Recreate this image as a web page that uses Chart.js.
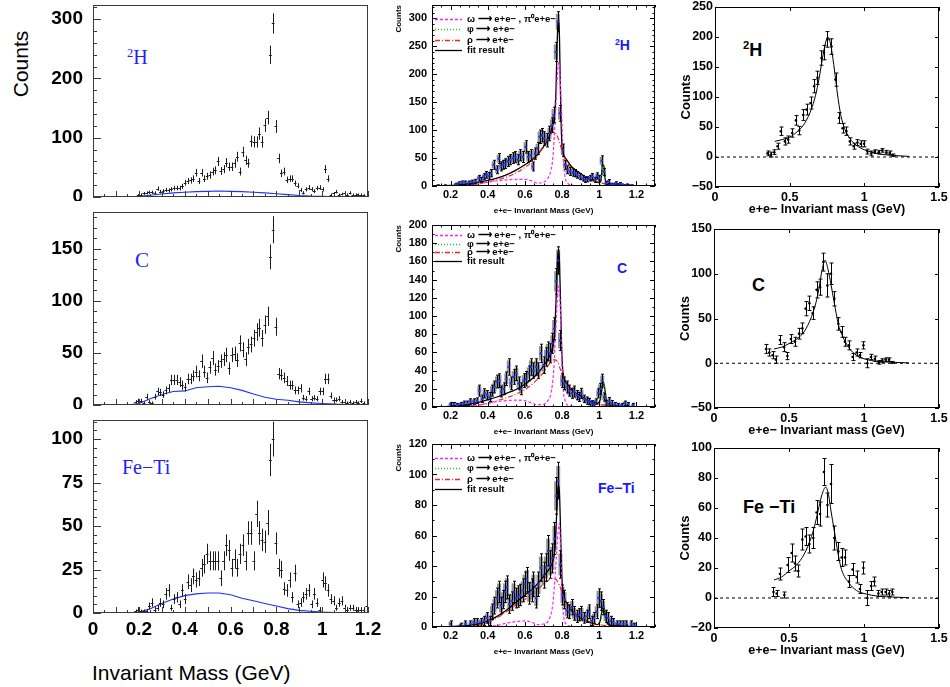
<!DOCTYPE html>
<html>
<head>
<meta charset="utf-8">
<script src="https://cdn.jsdelivr.net/npm/chart.js@4.4.1/dist/chart.umd.min.js"></script>
<style>
  body { margin: 0; width: 950px; height: 687px; position: relative; overflow: hidden; background: #fff;
         font-family: "Liberation Sans", Arial, sans-serif; }
  canvas { position: absolute; }
  .lbl { position: absolute; line-height: 1; white-space: nowrap; }
  .serif { font-family: "Liberation Serif", "Times New Roman", serif; color: #1e1eff; }
  .blue { font-weight: bold; color: #1a1aff; }
  .black { font-weight: bold; color: #000; }
  .sup { font-size: 0.62em; vertical-align: 0.6em; }
</style>
</head>
<body>

<div class="lbl" style="left:20px;top:64px;font-size:21px;transform:translate(-50%,-50%) rotate(-90deg)">Counts</div>
<div class="lbl" style="left:92px;top:662px;font-size:21px">Invariant Mass (GeV)</div>

<div class="lbl serif" style="left:127px;top:47px;font-size:20px"><span class="sup">2</span>H</div>
<div class="lbl serif" style="left:135px;top:250px;font-size:21px">C</div>
<div class="lbl serif" style="left:122px;top:457px;font-size:20px">Fe&minus;Ti</div>

<div class="lbl blue" style="left:615px;top:38px;font-size:14px"><span class="sup">2</span>H</div>
<div class="lbl blue" style="left:617px;top:261px;font-size:14px">C</div>
<div class="lbl blue" style="left:598px;top:481px;font-size:14px">Fe&minus;Ti</div>

<div class="lbl black" style="left:743px;top:40px;font-size:18px"><span class="sup">2</span>H</div>
<div class="lbl black" style="left:752px;top:276px;font-size:18px">C</div>
<div class="lbl black" style="left:743px;top:498px;font-size:18px">Fe &minus;Ti</div>

<script>
// ---- left column: raw e+e- mass spectra, 12 MeV bins from 0.18 GeV ----
const binStart = 0.18;
const binWidth = 0.012;
const countsH = [1,3,4,6,7,8,8,7,14,9, 10,12,11,13,15,15,15,18,24,27,
  28,31,41,27,41,31,35,37,43,45, 60,44,47,58,51,51,57,68,43,76,
  62,57,94,93,93,107,93,121,134,240, 293,119,65,40,43,29,31,31,23,19,
  12,7,13,16,13,10,15,16,13,47, 31,4,6,9,4,5,6,4,7,4, 4,4,4,3,2];
const countsC = [3,4,4,2,8,3,2,8,13,12,10,14,16,24,24,24,
  22,19,17,25,25,28,32,28,42,32,26,36,45,34,37,42,44,48,35,48,49,43,59,53,44,56,58,64,70,74,64,77,85,
  142,168,
  75,30,29,26,23,19,19,14,14,16,7,6,13,6,7,6,13,13,25,25,9,5,5,6,3,3,2,3,2,3,2,4,2,1];
const countsFe = [1,2,1,1,1,4,6,2,3,6,5,11,13,3,8,9,
  5,13,8,18,16,21,19,20,26,28,34,30,30,30,30,20,30,39,36,26,31,26,34,39,30,46,46,30,57,46,42,41,52,
  88,100,
  40,26,25,14,13,19,9,23,5,6,9,11,13,5,11,6,2,19,17,13,8,7,3,6,7,3,2,3,3,2,2,2,2,4];

// combinatorial background (blue)
const bgMass = [0,0.15,0.2,0.25,0.3,0.35,0.4,0.45,0.5,0.55,0.6,0.65,0.7,0.75,0.8,0.85,0.9,0.95,1.0,1.05,1.1,1.15,1.2];
const bgH  = [0,0,1,3,5,7,8,9,9.5,10,9.5,9,8,7,5.5,4,2.5,1.5,1,0.5,0.3,0.1,0];
const bgC  = [0,0,1.5,6,10,13,13.5,16.5,17.5,18,16.5,14,10.5,7.5,5.5,4.5,3,2,1.5,1,0.5,0.2,0];
const bgFe = [0,0,0.5,2.5,5.5,8,10,11,11.5,11.5,10.5,8.5,7,5.5,4,2.5,1.5,1,0.5,0.3,0.2,0.1,0];

const leftMassTicks = [0,0.2,0.4,0.6,0.8,1,1.2];
const leftTicksH = [0,100,200,300];
const leftTicksC = [0,50,100,150];
const leftTicksFe = [0,25,50,75,100];

// ---- middle column: background-subtracted spectra with cocktail fit ----
const midMassH = [0.13,0.17,0.227,0.245,0.263,0.28,0.298,0.316,0.334,0.352,0.366,0.379,0.393,0.405,0.418,0.432,0.45,0.459,0.471,
  0.482,0.495,0.507,0.521,0.536,0.548,0.561,0.575,0.589,0.604,0.618,0.632,0.643,0.655,0.668,0.679,0.691,0.704,0.718,0.732,
  0.745,0.754,0.766,0.777,0.789,0.804,0.816,0.829,0.843,0.857,0.87,0.882,0.896,0.911,0.923,0.936,0.95,0.963,0.977,0.989,
  1.0,1.013,1.025,1.037,1.05,1.062,1.075,1.088,1.1,1.112,1.125,1.137,1.15,1.162,1.175];
const midCountsH = [1,1,3,5,6,6,6,7,8,14,11,17,20,18,23,38,29,49,35,38,40,44,47,50,52,47,55,52,70,52,55,35,58,67,88,91,85,82,94,
  109,127,240,294,130,64,38,29,26,24,23,20,17,14,11,12,14,17,11,18,14,45,25,5,8,3,2,5,2,4,2,1,2,1,1];
const midErrH = [1,1,2,2.5,3,3,3,3.5,4,5,4.5,5,6,6,6.5,8,7,9,8,8,8.5,9,9,9.5,9.5,9,10,10,11,10,10,8,10,11,12,12,12,12,13,
  13,14,17,18,14,11,8,7,7,6.5,6.5,6,5.5,5,4.5,4.5,5,5.5,4.5,5.5,5,9,6.5,3,3.5,2,2,2.5,2,2,1.5,1.5,1.5,1,1];

const midMassC = [0.2,0.218,0.236,0.254,0.271,0.289,0.307,0.325,0.343,0.355,0.37,0.382,0.396,0.411,0.423,0.436,0.45,0.463,0.473,0.486,
  0.5,0.513,0.525,0.539,0.554,0.566,0.579,0.593,0.607,0.62,0.632,0.646,0.661,0.673,0.686,0.7,0.713,0.723,0.736,0.748,
  0.757,0.768,0.779,0.789,0.8,0.811,0.825,0.838,0.852,0.864,0.879,0.891,0.904,0.918,0.932,0.945,0.959,0.971,0.982,0.995,
  1.004,1.016,1.027,1.039,1.054,1.066,1.084,1.102,1.12,1.138,1.155,1.182];
const midCountsC = [3,3,2,3,4,4,6,6,7,18,9,15,13,11,18,22,28,29,17,20,31,44,26,33,37,26,20,29,31,37,
  44,40,44,40,59,46,55,61,59,70,86,138,161,73,29,26,22,18,15,17,13,11,15,9,7,6,4,3,6,15,
  20,29,11,4,7,4,3,2,2,4,3,2];
const midErrC = [2,2,2,2,2.5,2.5,3,3,3,6,4,5,5,5,6,6.5,7,7.5,6,6.5,7.5,9,7,8,8,7,6.5,7.5,8,8,
  9,8.5,9,8.5,10,9,10,10.5,10.5,11,12,14,15,11,7.5,7,6.5,6,5.5,6,5,5,5.5,4,4,3.5,3,2.5,3,5,
  6,7,4.5,3,3.5,3,2,2,2,2.5,2,2];

const midMassFe = [0.2,0.254,0.28,0.307,0.325,0.343,0.361,0.379,0.396,0.411,0.423,0.436,0.45,0.461,0.471,0.482,0.493,0.504,0.516,0.529,
  0.539,0.552,0.564,0.575,0.588,0.598,0.611,0.623,0.636,0.646,0.661,0.673,0.686,0.7,0.713,0.725,0.736,0.748,0.759,0.768,
  0.779,0.791,0.802,0.813,0.825,0.838,0.852,0.864,0.879,0.891,0.904,0.918,0.932,0.945,0.959,0.971,0.986,0.996,1.009,1.021,
  1.034,1.046,1.061,1.075,1.093,1.111,1.129,1.146,1.173,1.188];
const midCountsFe = [2,1,2,2,3,3,3,4,6,4,10,14,19,23,14,18,23,26,15,17,23,19,20,21,24,28,31,22,24,28,
  19,28,39,34,39,50,41,45,58,86,96,41,21,18,11,10,13,9,7,8,9,6,7,10,4,6,10,19,17,13,
  7,6,4,3,2,2,2,2,2,1];
const midErrFe = [2,1.5,2,2,2.5,2.5,2.5,3,3.5,3,5,5.5,6.5,7,5.5,6,7,7.5,6,6,7,6.5,7,7,7.5,8,8,7,7.5,8,
  6.5,8,9,8.5,9,10,9,9.5,10.5,12,12,9,6.5,6,5,4.5,5,4.5,4,4,4.5,3.5,4,4.5,3,3.5,4.5,6,6,5,
  4,3.5,3,2.5,2,2,2,2,2,1.5];

// fit components
const fitMassH = [0.15,0.2,0.25,0.3,0.35,0.4,0.45,0.5,0.55,0.6,0.65,0.7,0.73,0.75,0.76,0.767,0.773,0.778,0.782,0.786,
  0.79,0.795,0.8,0.81,0.825,0.85,0.9,0.95,0.99,1.0,1.01,1.017,1.025,1.032,1.04,1.06,1.1,1.2,1.25];
const fitH = [0,1,2,4,7,10,14,20,28,38,50,70,88,110,128,170,250,292,298,265,190,110,70,55,47,35,22,12,7,6,10,38,36,12,4,2,1.2,0.4,0.2];
const omegaMassH = [0.25,0.3,0.35,0.4,0.45,0.5,0.55,0.6,0.64,0.67,0.7,0.72,0.74,0.75,0.763,0.775,0.784,0.79,0.798,0.807,0.815,0.83,0.86,0.9];
const omegaH = [0.5,2,4,7,9,11,12,12,9,5,7,12,28,50,118,200,222,190,124,47,18,5,1,0];
const rhoMassH = [0.25,0.3,0.35,0.4,0.45,0.5,0.55,0.6,0.65,0.7,0.73,0.755,0.77,0.785,0.8,0.82,0.85,0.9,0.95,1.0,1.05,1.1,1.2];
const rhoH = [0.5,2,4,7,11,16,23,33,47,72,88,97,92,80,62,45,33,20,11,6,3,1.5,0.5];
const phiMassH = [0.99,1.005,1.012,1.02,1.028,1.035,1.045,1.06];
const phiH = [0,3,15,38,30,10,2,0];

const fitMassC = [0.15,0.2,0.3,0.35,0.4,0.45,0.5,0.55,0.6,0.65,0.7,0.73,0.75,0.76,0.768,0.775,0.781,0.786,0.791,0.797,
  0.803,0.81,0.825,0.85,0.9,0.95,0.99,1.005,1.015,1.022,1.03,1.04,1.05,1.1,1.2,1.25];
const fitC = [0,1,3,5,8,11,15,19,25,33,45,55,66,82,120,160,174,160,120,70,42,32,26,19,12,6,4,8,20,27,20,5,2,1,0.3,0.2];
const omegaMassC = [0.3,0.4,0.45,0.5,0.55,0.6,0.64,0.67,0.7,0.72,0.74,0.755,0.765,0.775,0.783,0.79,0.797,0.805,0.815,0.83,0.86];
const omegaC = [1,4,6,7,7.5,7,4,2.5,3,6,15,40,80,118,133,110,60,22,8,2,0.5];
const rhoMassC = [0.3,0.35,0.4,0.45,0.5,0.55,0.6,0.65,0.7,0.73,0.755,0.775,0.79,0.81,0.83,0.85,0.9,0.95,1.0,1.05,1.1,1.2];
const rhoC = [1,2,4,7,10,14,19,27,38,47,52,50,42,32,25,19,11,6,3,1.5,0.8,0.3];
const phiMassC = [0.99,1.005,1.013,1.022,1.03,1.038,1.048,1.06];
const phiC = [0,3,12,27,20,6,1,0];

const fitMassFe = [0.2,0.3,0.35,0.4,0.45,0.5,0.55,0.6,0.65,0.7,0.73,0.75,0.762,0.77,0.777,0.782,0.787,0.792,0.798,0.805,
  0.815,0.83,0.85,0.9,0.95,0.99,1.005,1.015,1.022,1.03,1.04,1.05,1.1,1.2];
const fitFe = [0.3,1,2,4,7,11,16,21,26,33,38,43,52,72,90,93,85,62,35,24,18,15,11,6,3,1.5,4,11,14,10,3,1.5,0.8,0.3];
const omegaMassFe = [0.4,0.45,0.5,0.55,0.6,0.64,0.67,0.7,0.73,0.75,0.765,0.778,0.785,0.792,0.8,0.81,0.825,0.85];
const omegaFe = [0.5,1,2.5,3.5,4,3,1.5,2,5,15,38,62,68,50,20,6,1.5,0.3];
const rhoMassFe = [0.3,0.35,0.4,0.45,0.5,0.55,0.6,0.65,0.7,0.73,0.755,0.775,0.79,0.81,0.83,0.85,0.9,0.95,1.0,1.05,1.1,1.2];
const rhoFe = [0.5,1,3,6,10,14,18,23,28,31,32,30,26,20,15,11,6,3,1.5,0.8,0.4,0.2];
const phiMassFe = [0.99,1.005,1.013,1.022,1.03,1.038,1.048,1.06];
const phiFe = [0,2,8,14,10,3,0.5,0];

const midMassTicks = [0.2,0.4,0.6,0.8,1,1.2];
const midTicksH = [0,50,100,150,200,250,300];
const midTicksC = [0,20,40,60,80,100,120,140,160,180,200];
const midTicksFe = [0,20,40,60,80,100,120];

// ---- right column: rho-region spectra with Breit-Wigner fit ----
const rMassH = [0.352,0.374,0.397,0.419,0.441,0.468,0.49,0.517,0.542,0.564,0.591,0.613,0.64,0.664,0.686,0.713,0.729,0.753,
  0.78,0.807,0.831,0.854,0.88,0.903,0.929,0.954,0.976,0.998,1.021,1.047,1.07,1.096,1.121,1.148,1.17,1.192];
const rCountsH = [6,4,8,18,43,26,29,40,61,44,70,79,90,118,132,165,174,196,184,129,65,48,43,26,18,24,22,22,9,6,9,8,11,8,7,3];
const rErrH = [4,4,4,5,7,6,6,7,8,7,9,9,10,11,11,12,12,13,13,11,9,8,7,6,5,5,5,5,4,4,3,3,3,3,3,2];
const rFitMassH = [0.4,0.45,0.5,0.55,0.6,0.65,0.68,0.7,0.72,0.74,0.755,0.765,0.78,0.8,0.82,0.84,0.86,0.9,0.95,1.0,1.05,1.1,1.2,1.3];
const rFitH = [26,29,33,42,56,83,110,135,165,190,200,197,180,145,105,73,53,32,19,12,8,5,2.5,1];

const rMassC = [0.347,0.369,0.391,0.413,0.44,0.467,0.489,0.513,0.54,0.567,0.589,0.611,0.636,0.658,0.684,0.707,0.729,0.756,
  0.78,0.802,0.829,0.851,0.873,0.9,0.924,0.951,0.973,0.996,1.022,1.047,1.073,1.1,1.122,1.144,1.167,1.189];
const rCountsC = [16,12,9,4,26,18,8,27,24,33,39,61,67,56,82,85,113,87,100,72,44,35,24,20,7,12,9,20,0,7,5,1,3,4,4,1];
const rErrC = [5,4,4,4,5,5,4,5,5,6,6,8,8,7,9,9,10,13,12,8,7,6,5,5,4,4,3,4,5,3,3,2,2,2,2,1];
const rFitMassC = [0.4,0.45,0.5,0.55,0.6,0.65,0.68,0.7,0.72,0.74,0.76,0.78,0.8,0.83,0.85,0.9,0.95,1.0,1.1,1.2,1.3];
const rFitC = [16,18,22,27,35,52,68,84,104,115,105,88,69,43,33,17,9,5,2,1,0.4];

const rMassFe = [0.396,0.418,0.44,0.469,0.491,0.518,0.54,0.562,0.589,0.611,0.636,0.662,0.684,0.707,0.733,0.756,0.78,
  0.802,0.829,0.851,0.873,0.9,0.924,0.951,0.973,0.996,1.022,1.047,1.069,1.096,1.118,1.144,1.167,1.189];
const rCountsFe = [4,3,16,2,22,30,23,18,39,41,36,40,57,56,84,62,76,40,31,27,27,11,19,14,6,20,0,8,11,3,4,4,3,4];
const rErrFe = [3,2,4,2,5,6,5,4,7,6,6,7,8,8,9,8,13,8,6,6,5,4,4,4,3,4,5,3,3,2,2,2,2,2];
const rFitMassFe = [0.4,0.45,0.5,0.55,0.6,0.65,0.68,0.7,0.72,0.745,0.765,0.78,0.8,0.83,0.85,0.9,0.95,1.0,1.1,1.2,1.3];
const rFitFe = [12,14,18,22,29,41,52,61,69,74,68,58,46,28,19,10,5,3,1.2,0.6,0.2];

const zeroMass = [0, 1.5];
const zeroLine = [0, 0];

const rightMassTicks = [0,0.5,1,1.5];
const rightTicksH = [-50,0,50,100,150,200,250];
const rightTicksC = [-50,0,50,100,150];
const rightTicksFe = [-20,0,20,40,60,80,100];

// ---------------------------------------------------------------------------

Chart.defaults.font.family = '"Liberation Sans", Arial, sans-serif';
Chart.defaults.color = '#000';

const pairs = (xs, ys) => xs.map((x, i) => ({x: x, y: ys[i]}));

// box around the plotting area
const frame = {
  id: 'frame',
  afterDraw(chart, args, o) {
    const {ctx, chartArea: a} = chart;
    ctx.save();
    ctx.strokeStyle = o.color;
    ctx.lineWidth = 1;
    ctx.strokeRect(Math.round(a.left) + 0.5, Math.round(a.top) + 0.5, Math.round(a.width) - 1, Math.round(a.height) - 1);
    ctx.restore();
  }
};

// tick marks pointing into the plot
const innerTicks = {
  id: 'innerTicks',
  afterDraw(chart, args, o) {
    const {ctx, chartArea: a} = chart;
    ctx.save();
    ctx.strokeStyle = o.color;
    ctx.lineWidth = 1;
    ctx.beginPath();
    ['x', 'y'].forEach(key => {
      const t = o[key];
      if (!t) return;
      const s = chart.scales[key];
      const first = Math.ceil(s.min / t.minor - 1e-6), last = Math.floor(s.max / t.minor + 1e-6);
      for (let i = first; i <= last; i++) {
        const v = i * t.minor;
        const isMajor = Math.abs(v / t.major - Math.round(v / t.major)) < 1e-6;
        const len = isMajor ? t.len : t.len / 2;
        const p = Math.round(s.getPixelForValue(v)) + 0.5;
        if (key === 'x') {
          ctx.moveTo(p, a.bottom); ctx.lineTo(p, a.bottom - len);
          if (o.mirror) { ctx.moveTo(p, a.top); ctx.lineTo(p, a.top + len); }
        } else {
          ctx.moveTo(a.left, p); ctx.lineTo(a.left + len, p);
          if (o.mirror) { ctx.moveTo(a.right, p); ctx.lineTo(a.right - len, p); }
        }
      }
    });
    ctx.stroke();
    ctx.restore();
  }
};

// vertical error bars, bin-width bars, caps and grey uncertainty boxes
const errorBars = {
  id: 'errorBars',
  beforeDatasetsDraw(chart) {
    const {ctx, chartArea: a, scales: {x: xs, y: ys}} = chart;
    ctx.save();
    ctx.beginPath(); ctx.rect(a.left, a.top, a.width, a.height); ctx.clip();
    chart.data.datasets.forEach(ds => {
      if (!ds.boxFrac) return;
      ctx.fillStyle = ds.boxColor;
      ds.data.forEach((p, j) => {
        const e = ds.yErr[j] * ds.boxFrac;
        const x = xs.getPixelForValue(p.x);
        const top = ys.getPixelForValue(p.y + e), bot = ys.getPixelForValue(p.y - e);
        ctx.fillRect(x - ds.boxHalf, top, ds.boxHalf * 2, bot - top);
      });
    });
    ctx.restore();
  },
  beforeDatasetDraw(chart, args) {
    const ds = chart.data.datasets[args.index];
    if (!ds.yErr) return;
    const {ctx, chartArea: a, scales: {x: xs, y: ys}} = chart;
    ctx.save();
    ctx.beginPath(); ctx.rect(a.left, a.top, a.width, a.height); ctx.clip();
    ctx.strokeStyle = ds.barColor;
    ctx.lineWidth = 1;
    ctx.beginPath();
    ds.data.forEach((p, j) => {
      const e = ds.yErr[j];
      const x = Math.round(xs.getPixelForValue(p.x)) + 0.5;
      const y = Math.round(ys.getPixelForValue(p.y)) + 0.5;
      const y0 = ys.getPixelForValue(p.y - e), y1 = ys.getPixelForValue(p.y + e);
      ctx.moveTo(x, y0); ctx.lineTo(x, y1);
      if (ds.xHalf) {
        ctx.moveTo(xs.getPixelForValue(p.x - ds.xHalf), y);
        ctx.lineTo(xs.getPixelForValue(p.x + ds.xHalf), y);
      }
      if (ds.cap) {
        ctx.moveTo(x - ds.cap, y0); ctx.lineTo(x + ds.cap, y0);
        ctx.moveTo(x - ds.cap, y1); ctx.lineTo(x + ds.cap, y1);
      }
    });
    ctx.stroke();
    ctx.restore();
  }
};

// legend drawn inside the plot, top left
const insetLegend = {
  id: 'insetLegend',
  afterDraw(chart, args, o) {
    const {ctx, chartArea: a} = chart;
    const items = chart.data.datasets.filter(d => d.legendText);
    ctx.save();
    items.forEach((d, i) => {
      const y = Math.round(a.top + o.dy + i * o.rowH) + 0.5;
      const x0 = a.left + o.dx;
      ctx.strokeStyle = d.borderColor;
      ctx.lineWidth = 1.3;
      ctx.setLineDash(d.borderDash || []);
      ctx.beginPath(); ctx.moveTo(x0, y); ctx.lineTo(x0 + o.len, y); ctx.stroke();
      ctx.setLineDash([]);
      ctx.fillStyle = '#000';
      ctx.font = 'bold ' + o.size + 'px "Liberation Sans", Arial, sans-serif';
      ctx.textBaseline = 'middle';
      ctx.fillText(d.legendText, x0 + o.len + 5, y);
    });
    ctx.restore();
  }
};

function axisOpts(a, size, horizontal) {
  return {
    type: 'linear',
    min: a.min,
    max: a.max,
    grid: {display: false, drawTicks: false},
    border: {display: false},
    ticks: {
      display: a.show !== false, autoSkip: false, maxRotation: 0, minRotation: 0,
      padding: a.pad || 0, color: '#000', font: a.font,
      callback: v => String(v).replace('-', '\u2212')
    },
    title: a.title
      ? {display: true, text: a.title, align: a.align || 'center', font: a.titleFont, color: '#000', padding: 0}
      : {display: false},
    afterBuildTicks: s => { s.ticks = a.ticks.map(v => ({value: v})); },
    afterFit: s => {
      if (horizontal) s.height = size; else s.width = size;
      s.paddingLeft = s.paddingRight = s.paddingTop = s.paddingBottom = 0;
    }
  };
}

// one chart per panel; area = [left, top, right, bottom] of the plotting box
function panel(p) {
  const [l, t, r, b] = p.area;
  const pad = p.pad;
  const left = l - p.yw - pad[0], top = t - pad[1];
  const cv = document.createElement('canvas');
  cv.width = r + pad[2] - left;
  cv.height = b + p.xh + pad[3] - top;
  cv.style.left = left + 'px';
  cv.style.top = top + 'px';
  document.body.appendChild(cv);
  return new Chart(cv, {
    type: 'scatter',
    data: {datasets: p.datasets},
    options: {
      responsive: false,
      animation: false,
      events: [],
      layout: {padding: {left: pad[0], top: pad[1], right: pad[2], bottom: pad[3]}},
      plugins: {
        legend: {display: false},
        tooltip: {enabled: false},
        frame: {color: p.frameColor},
        innerTicks: p.ticks,
        insetLegend: p.legend || false
      },
      scales: {
        x: axisOpts(p.x, p.xh, true),
        y: axisOpts(p.y, p.yw, false)
      }
    },
    plugins: [frame, innerTicks, errorBars, insetLegend]
  });
}

// ---- left column ----
const boldL = {size: 19, weight: 'bold'};

function leftSets(counts, bg) {
  const pts = counts.map((c, i) => ({x: binStart + binWidth * (i + 0.5), y: c}));
  return [
    {data: pts, yErr: counts.map(Math.sqrt), xHalf: binWidth / 2, barColor: '#1c1c1c', pointRadius: 0, showLine: false},
    {data: pairs(bgMass, bg), showLine: true, borderColor: '#2030ff', borderWidth: 1.1, pointRadius: 0, tension: 0}
  ];
}

const leftPanels = [
  {counts: countsH, bg: bgH, area: [93, 5, 368, 197], ymax: 324, ticks: leftTicksH, major: 100, minor: 20, bottom: false},
  {counts: countsC, bg: bgC, area: [93, 212, 368, 405], ymax: 185, ticks: leftTicksC, major: 50, minor: 10, bottom: false},
  {counts: countsFe, bg: bgFe, area: [93, 420, 368, 613], ymax: 111, ticks: leftTicksFe, major: 25, minor: 5, bottom: true}
];

leftPanels.forEach(lp => panel({
  area: lp.area, yw: 60, xh: lp.bottom ? 32 : 2, pad: [0, 6, 20, 2],
  frameColor: '#3a3a3a',
  ticks: {color: '#3a3a3a', mirror: false, x: {major: 0.1, minor: 0.05, len: 6}, y: {major: lp.major, minor: lp.minor, len: 8}},
  x: {min: 0, max: 1.2, ticks: leftMassTicks, show: lp.bottom, pad: 5, font: boldL},
  y: {min: 0, max: lp.ymax, ticks: lp.ticks, pad: 10, font: boldL},
  datasets: leftSets(lp.counts, lp.bg)
}));

// ---- middle column ----
const boldM = {size: 11, weight: 'bold'};
const titleM = {size: 8, weight: 'bold'};

function midSets(mass, counts, err, comp) {
  return [
    {data: pairs(mass, counts), yErr: err, cap: 1.5, barColor: '#000',
     boxFrac: 0.8, boxHalf: 2, boxColor: 'rgba(120,120,120,0.8)',
     pointStyle: 'rect', pointRadius: 1.6, backgroundColor: '#1436ff', borderWidth: 0, showLine: false},
    {legendText: '\u03C9 \u27F6 e+e\u2212 , \u03C0\u2070e+e\u2212', data: pairs(comp.omegaMass, comp.omega), showLine: true,
     borderColor: '#ff22ff', borderDash: [3, 2], borderWidth: 1.2, pointRadius: 0, cubicInterpolationMode: 'monotone'},
    {legendText: '\u03C6 \u27F6 e+e\u2212', data: pairs(comp.phiMass, comp.phi), showLine: true,
     borderColor: '#33bb33', borderDash: [1, 2], borderWidth: 1.2, pointRadius: 0, cubicInterpolationMode: 'monotone'},
    {legendText: '\u03C1 \u27F6 e+e\u2212', data: pairs(comp.rhoMass, comp.rho), showLine: true,
     borderColor: '#ff2020', borderDash: [5, 2, 1, 2], borderWidth: 1.2, pointRadius: 0, cubicInterpolationMode: 'monotone'},
    {legendText: 'fit result', data: pairs(comp.fitMass, comp.fit), showLine: true,
     borderColor: '#000', borderWidth: 1.3, pointRadius: 0, cubicInterpolationMode: 'monotone'},
    {data: [{x: 0.1, y: 0}, {x: 1.3, y: 0}], showLine: true, borderColor: '#1030ff', borderWidth: 2, pointRadius: 0}
  ];
}

const midPanels = [
  {area: [432, 5, 655, 186], ymax: 324, ticks: midTicksH, major: 50, minor: 10, legendDy: 14, rowH: 10.3,
   data: [midMassH, midCountsH, midErrH],
   comp: {fitMass: fitMassH, fit: fitH, omegaMass: omegaMassH, omega: omegaH, rhoMass: rhoMassH, rho: rhoH, phiMass: phiMassH, phi: phiH}},
  {area: [432, 225, 655, 407], ymax: 200, ticks: midTicksC, major: 20, minor: 10, legendDy: 10, rowH: 8.6,
   data: [midMassC, midCountsC, midErrC],
   comp: {fitMass: fitMassC, fit: fitC, omegaMass: omegaMassC, omega: omegaC, rhoMass: rhoMassC, rho: rhoC, phiMass: phiMassC, phi: phiC}},
  {area: [432, 444, 655, 627], ymax: 120, ticks: midTicksFe, major: 20, minor: 10, legendDy: 14, rowH: 10.3,
   data: [midMassFe, midCountsFe, midErrFe],
   comp: {fitMass: fitMassFe, fit: fitFe, omegaMass: omegaMassFe, omega: omegaFe, rhoMass: rhoMassFe, rho: rhoFe, phiMass: phiMassFe, phi: phiFe}}
];

midPanels.forEach(mp => panel({
  area: mp.area, yw: 38, xh: 30, pad: [0, 6, 12, 0],
  frameColor: '#000',
  ticks: {color: '#000', mirror: true, x: {major: 0.2, minor: 0.05, len: 5}, y: {major: mp.major, minor: mp.minor, len: 5}},
  legend: {dx: 3, dy: mp.legendDy, rowH: mp.rowH, len: 27, size: 9.5},
  x: {min: 0.1, max: 1.3, ticks: midMassTicks, pad: 2, font: boldM, title: 'e+e\u2212 Invariant Mass (GeV)', titleFont: titleM},
  y: {min: 0, max: mp.ymax, ticks: mp.ticks, pad: 5, font: boldM, title: 'Counts', titleFont: titleM, align: 'end'},
  datasets: midSets(mp.data[0], mp.data[1], mp.data[2], mp.comp)
}));

// ---- right column ----
const boldR = {size: 12.5, weight: 'bold'};
const titleR = {size: 12.5, weight: 'bold'};

function rightSets(mass, counts, err, fitMass, fit) {
  return [
    {data: pairs(mass, counts), yErr: err, cap: 2, barColor: '#000',
     pointStyle: 'circle', pointRadius: 1.3, backgroundColor: '#000', borderWidth: 0, showLine: false},
    {data: pairs(fitMass, fit), showLine: true, borderColor: '#000', borderWidth: 1, pointRadius: 0, cubicInterpolationMode: 'monotone'},
    {data: pairs(zeroMass, zeroLine), showLine: true, borderColor: '#000', borderWidth: 1, borderDash: [3, 3], pointRadius: 0}
  ];
}

const rightPanels = [
  {area: [715, 7, 939, 187], min: -50, max: 250, ticks: rightTicksH, step: 50,
   data: [rMassH, rCountsH, rErrH, rFitMassH, rFitH]},
  {area: [714, 229, 939, 408], min: -50, max: 150, ticks: rightTicksC, step: 50,
   data: [rMassC, rCountsC, rErrC, rFitMassC, rFitC]},
  {area: [714, 448, 939, 628], min: -20, max: 100, ticks: rightTicksFe, step: 20,
   data: [rMassFe, rCountsFe, rErrFe, rFitMassFe, rFitFe]}
];

rightPanels.forEach(rp => panel({
  area: rp.area, yw: 36, xh: 30, pad: [0, 8, 10, 0],
  frameColor: '#000',
  ticks: {color: '#000', mirror: true, x: {major: 0.5, minor: 0.5, len: 4}, y: {major: rp.step, minor: rp.step, len: 4}},
  x: {min: 0, max: 1.5, ticks: rightMassTicks, pad: 3, font: boldR, title: 'e+e\u2212 Invariant mass (GeV)', titleFont: titleR},
  y: {min: rp.min, max: rp.max, ticks: rp.ticks, pad: 2, font: boldR, title: 'Counts', titleFont: {size: 13, weight: 'bold'}},
  datasets: rightSets(rp.data[0], rp.data[1], rp.data[2], rp.data[3], rp.data[4])
}));
</script>
</body>
</html>
